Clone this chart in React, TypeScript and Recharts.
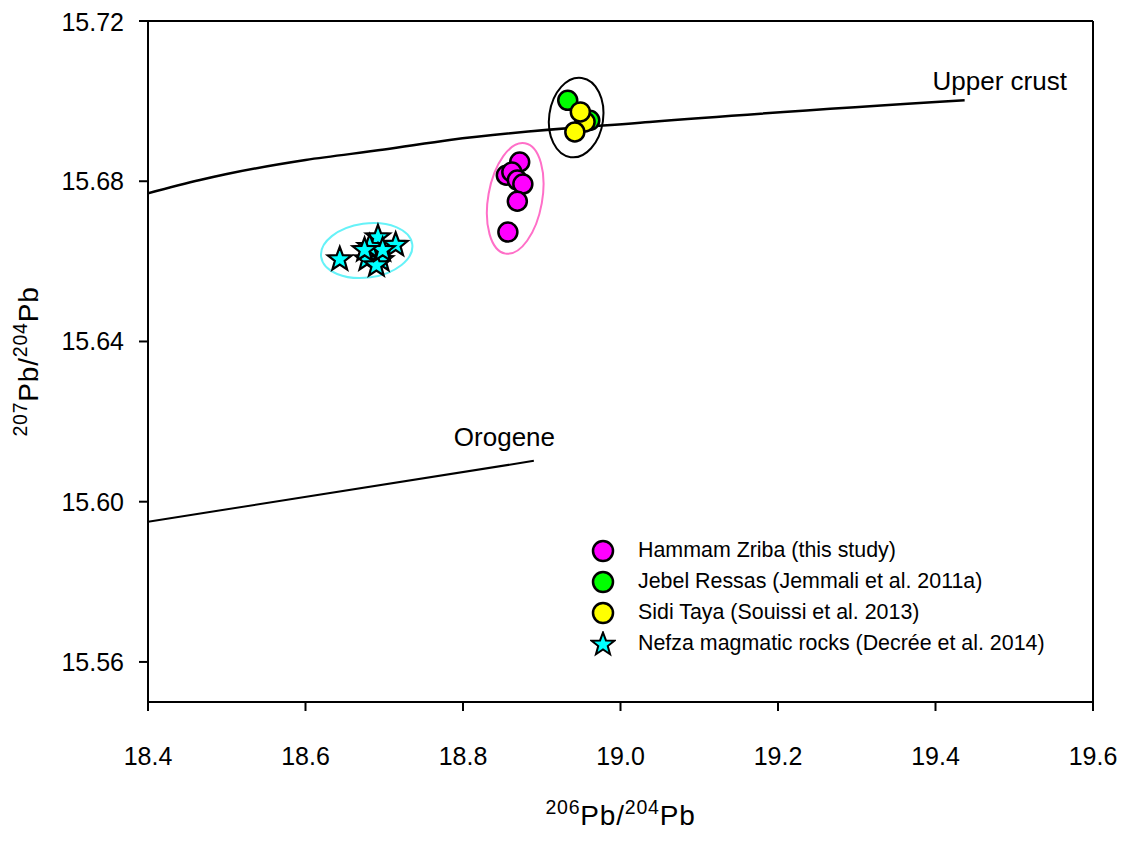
import React from 'react';
import {
  ComposedChart,
  XAxis,
  YAxis,
  Scatter,
  Line,
  ReferenceLine,
  ReferenceDot,
  Legend,
  Label,
} from 'recharts';

const FONT = '"Liberation Sans", Arial, Helvetica, sans-serif';

// Axis ticks
const xTicks = [18.4, 18.6, 18.8, 19.0, 19.2, 19.4, 19.6];
const yTicks = [15.56, 15.6, 15.64, 15.68, 15.72];

// Series values
const hammamX = [18.872, 18.855, 18.862, 18.869, 18.876, 18.869, 18.857];
const hammamY = [15.6848, 15.6815, 15.6823, 15.6803, 15.6793, 15.675, 15.6673];

const ressasX = [18.961, 18.933];
const ressasY = [15.6952, 15.7002];

const tayaX = [18.955, 18.949, 18.942];
const tayaY = [15.6948, 15.6973, 15.6923];

const nefzaX = [18.6435, 18.692, 18.7145, 18.678, 18.696, 18.69, 18.6815, 18.698, 18.675];
const nefzaY = [15.6605, 15.666, 15.6641, 15.6605, 15.6603, 15.659, 15.6636, 15.6628, 15.6628];

// Reference curves
const upperCrustX = [18.4, 18.466, 18.5, 18.6, 18.7, 18.783, 19.037, 19.437];
const upperCrustY = [15.677, 15.6803, 15.6818, 15.6853, 15.6879, 15.6903, 15.6948, 15.7002];

const orogeneX = [18.4, 18.89];
const orogeneY = [15.595, 15.6102];

// Group outlines (centres)
const groupNames = ['nefza', 'hammam', 'ressasTaya'];
const groupCenterX = [18.6777, 18.8663, 18.9437];
const groupCenterY = [15.6627, 15.6757, 15.6959];

// Curve labels
const curveLabels = ['Upper crust', 'Orogene'];
const curveLabelX = [19.4815, 18.8526];
const curveLabelY = [15.7051, 15.6162];

const legendNames = [
  'Hammam Zriba (this study)',
  'Jebel Ressas (Jemmali et al. 2011a)',
  'Sidi Taya (Souissi et al. 2013)',
  'Nefza magmatic rocks (Decrée et al. 2014)',
];

const zip = (xs: number[], ys: number[]) => xs.map((x, i) => ({ x, y: ys[i] }));

const hammamData = zip(hammamX, hammamY);
const ressasData = zip(ressasX, ressasY);
const tayaData = zip(tayaX, tayaY);
const nefzaData = zip(nefzaX, nefzaY);
const upperCrustData = zip(upperCrustX, upperCrustY);
const orogeneData = zip(orogeneX, orogeneY);

const ellipseStyle: Record<string, { rx: number; ry: number; angle: number; stroke: string }> = {
  nefza: { rx: 46, ry: 27, angle: -8, stroke: '#66F2F8' },
  hammam: { rx: 27, ry: 56, angle: 10, stroke: '#FF6FC8' },
  ressasTaya: { rx: 27, ry: 40, angle: 8, stroke: '#000000' },
};

const COLORS = {
  hammam: '#FF00FF',
  ressas: '#00FF00',
  taya: '#FFFF00',
  nefza: '#00FFFF',
};

const circleShape = (fill: string) => (props: any) => {
  const { cx, cy } = props;
  if (cx == null || cy == null) return <g />;
  return <circle cx={cx} cy={cy} r={9.5} fill={fill} stroke="#000" strokeWidth={2.5} />;
};

const starPoints = (cx: number, cy: number, ro: number, ri: number) => {
  const pts: string[] = [];
  for (let i = 0; i < 10; i++) {
    const r = i % 2 === 0 ? ro : ri;
    const a = -Math.PI / 2 + (i * Math.PI) / 5;
    pts.push(`${cx + r * Math.cos(a)},${cy + r * Math.sin(a)}`);
  }
  return pts.join(' ');
};

const starShape = (props: any) => {
  const { cx, cy } = props;
  if (cx == null || cy == null) return <g />;
  return (
    <polygon
      points={starPoints(cx, cy, 12.5, 5.2)}
      fill={COLORS.nefza}
      stroke="#000"
      strokeWidth={2.2}
      strokeLinejoin="miter"
    />
  );
};

const ellipseShape = (name: string) => (props: any) => {
  const { cx, cy } = props;
  const s = ellipseStyle[name];
  if (cx == null || cy == null) return <g />;
  return (
    <ellipse
      cx={cx}
      cy={cy}
      rx={s.rx}
      ry={s.ry}
      transform={`rotate(${s.angle} ${cx} ${cy})`}
      fill="none"
      stroke={s.stroke}
      strokeWidth={2}
    />
  );
};

const LegendMarker = ({ idx }: { idx: number }) => {
  if (idx === 3) {
    return (
      <svg width={26} height={26}>
        <polygon points={starPoints(13, 13.5, 12, 5)} fill={COLORS.nefza} stroke="#000" strokeWidth={2} />
      </svg>
    );
  }
  const fills = [COLORS.hammam, COLORS.ressas, COLORS.taya];
  return (
    <svg width={26} height={26}>
      <circle cx={13} cy={13} r={10} fill={fills[idx]} stroke="#000" strokeWidth={2.5} />
    </svg>
  );
};

const CustomLegend = () => (
  <div style={{ fontFamily: FONT, fontSize: 21.4, color: '#000' }}>
    {legendNames.map((n, i) => (
      <div key={n} style={{ display: 'flex', alignItems: 'center', height: 31 }}>
        <LegendMarker idx={i} />
        <span style={{ marginLeft: 22, whiteSpace: 'nowrap' }}>{n}</span>
      </div>
    ))}
  </div>
);

const TitleParts = ({ a, b }: { a: string; b: string }) => (
  <>
    <tspan fontSize={19.5} dy={-11}>{a}</tspan>
    <tspan fontSize={28} dy={11}>Pb/</tspan>
    <tspan fontSize={19.5} dy={-11}>{b}</tspan>
    <tspan fontSize={28} dy={11}>Pb</tspan>
  </>
);

const XTitle = (props: any) => {
  const vb = props.viewBox || {};
  const cx = vb.x + vb.width / 2;
  const y = vb.y + 123;
  return (
    <text x={cx} y={y} textAnchor="middle" fontFamily={FONT} fill="#000" letterSpacing={0.8}>
      <TitleParts a="206" b="204" />
    </text>
  );
};

const YTitle = (props: any) => {
  const vb = props.viewBox || {};
  const x = 30;
  const cy = vb.y + vb.height / 2;
  return (
    <text
      x={x}
      y={cy}
      textAnchor="middle"
      fontFamily={FONT}
      fill="#000"
      letterSpacing={0.8}
      transform={`rotate(-90 ${x} ${cy})`}
    >
      <TitleParts a="207" b="204" />
    </text>
  );
};

export default function App() {
  return (
    <div style={{ width: 1121, height: 824, background: '#fff' }}>
      <ComposedChart
        width={1121}
        height={824}
        margin={{ top: 13, right: 36, left: 0, bottom: 0 }}
        style={{ overflow: 'visible' }}
      >
        <XAxis
          dataKey="x"
          type="number"
          domain={[18.4, 19.6]}
          ticks={xTicks}
          tickFormatter={(v: number) => v.toFixed(1)}
          allowDataOverflow
          height={130}
          tickSize={9}
          tickMargin={36}
          axisLine={{ stroke: '#000', strokeWidth: 2 }}
          tickLine={{ stroke: '#000', strokeWidth: 2 }}
          tick={{ fontSize: 25, fill: '#000', fontFamily: FONT }}
        >
          <Label content={<XTitle />} />
        </XAxis>
        <YAxis
          dataKey="y"
          type="number"
          domain={[15.55, 15.72]}
          ticks={yTicks}
          tickFormatter={(v: number) => v.toFixed(2)}
          allowDataOverflow
          width={140}
          tickSize={9}
          tickMargin={15}
          axisLine={{ stroke: '#000', strokeWidth: 2 }}
          tickLine={{ stroke: '#000', strokeWidth: 2 }}
          tick={{ fontSize: 25, fill: '#000', fontFamily: FONT }}
        >
          <Label content={<YTitle />} />
        </YAxis>

        <ReferenceLine y={15.72} stroke="#000" strokeWidth={2} />
        <ReferenceLine x={19.6} stroke="#000" strokeWidth={2} />

        {groupNames.map((g, i) => (
          <Scatter
            key={g}
            name={g}
            data={[{ x: groupCenterX[i], y: groupCenterY[i] }]}
            shape={ellipseShape(g)}
            isAnimationActive={false}
            legendType="none"
          />
        ))}

        <Line
          data={upperCrustData}
          dataKey="y"
          type="monotone"
          dot={false}
          activeDot={false}
          stroke="#000"
          strokeWidth={2.5}
          isAnimationActive={false}
          legendType="none"
        />
        <Line
          data={orogeneData}
          dataKey="y"
          type="linear"
          dot={false}
          activeDot={false}
          stroke="#000"
          strokeWidth={2}
          isAnimationActive={false}
          legendType="none"
        />

        <Scatter name={legendNames[3]} data={nefzaData} shape={starShape} isAnimationActive={false} />
        <Scatter name={legendNames[0]} data={hammamData} shape={circleShape(COLORS.hammam)} isAnimationActive={false} />
        <Scatter name={legendNames[1]} data={ressasData} shape={circleShape(COLORS.ressas)} isAnimationActive={false} />
        <Scatter name={legendNames[2]} data={tayaData} shape={circleShape(COLORS.taya)} isAnimationActive={false} />

        {curveLabels.map((t, i) => (
          <ReferenceDot
            key={t}
            x={curveLabelX[i]}
            y={curveLabelY[i]}
            r={0}
            fill="none"
            stroke="none"
            label={{ value: t, position: 'center', fontSize: 26, fill: '#000', fontFamily: FONT }}
          />
        ))}

        <Legend
          layout="vertical"
          align="center"
          verticalAlign="middle"
          content={<CustomLegend />}
          wrapperStyle={{ left: 582, top: 527, width: 520 }}
        />
      </ComposedChart>
    </div>
  );
}
